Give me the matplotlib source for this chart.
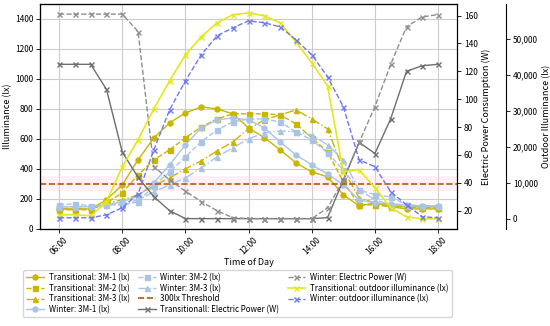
import matplotlib
matplotlib.use('Agg')
import matplotlib.pyplot as plt
from matplotlib.ticker import FuncFormatter

# time of day, half-hour steps
times = ['06:00', '06:30', '07:00', '07:30', '08:00', '08:30', '09:00', '09:30',
         '10:00', '10:30', '11:00', '11:30', '12:00', '12:30', '13:00', '13:30',
         '14:00', '14:30', '15:00', '15:30', '16:00', '16:30', '17:00', '17:30', '18:00']

# indoor illuminance (lx)
trans_3m1 = [133, 133, 133, 193, 293, 460, 607, 707, 773, 813, 800, 767, 673,
             607, 527, 440, 380, 347, 227, 153, 173, 147, 133, 133, 133]
trans_3m2 = [127, 127, 127, 173, 240, 360, 460, 527, 607, 680, 733, 767, 767,
             767, 760, 700, 607, 513, 313, 160, 160, 147, 147, 140, 140]
trans_3m3 = [133, 133, 133, 173, 193, 227, 287, 340, 400, 453, 520, 580, 667,
             727, 760, 793, 733, 667, 393, 207, 173, 153, 147, 147, 147]
winter_3m1 = [147, 147, 147, 160, 180, 220, 307, 427, 560, 673, 727, 740, 727,
              673, 580, 493, 427, 367, 293, 193, 173, 167, 160, 153, 153]
winter_3m2 = [160, 167, 153, 160, 160, 180, 287, 380, 480, 580, 660, 713, 733,
              733, 713, 647, 593, 507, 393, 260, 227, 213, 160, 153, 153]
winter_3m3 = [147, 147, 153, 160, 167, 193, 247, 293, 340, 407, 480, 540, 600,
              640, 653, 647, 627, 560, 460, 260, 193, 160, 153, 153, 153]
threshold = 300

# electric power (W)
trans_power = [125, 125, 125, 107, 62, 44, 30, 20, 14.3, 14.3, 14.3, 14.3, 14.3,
               14.3, 14.3, 14.3, 14.3, 15, 42, 69, 61, 86, 120, 124, 125]
winter_power = [161, 161, 161, 161, 161, 148.5, 51.6, 42, 34, 26.5, 20, 15, 14.3,
                14.3, 14.3, 14.3, 14.3, 22, 42, 69, 94.7, 125, 152, 159, 160.7]

# outdoor illuminance (lx)
trans_outdoor = [1111, 1111, 833, 4722, 14444, 21944, 30556, 38333, 45556, 50556,
                 54444, 56667, 57222, 56389, 54444, 49167, 43333, 36944, 13056,
                 13611, 8611, 3056, 556, 0, 0]
winter_outdoor = [278, 278, 278, 1111, 3056, 6944, 19167, 30278, 38333, 45556,
                  50833, 53056, 55000, 54444, 53333, 49722, 45556, 39444, 31111,
                  16389, 14444, 7500, 3889, 556, 278]

hours = [int(t[:2]) + int(t[3:]) / 60 for t in times]

plt.rcParams['font.family'] = ['Noto Sans CJK KR', 'DejaVu Sans']

c_trans = '#c9b600'
c_winter = '#aac4e6'
c_thr = '#b35a06'
c_tpow = '#6e6e6e'
c_wpow = '#8e8e8e'
c_tout = '#e6e61e'
c_wout = '#6f78f0'

fig = plt.figure(figsize=(5.5, 3.26), dpi=100)
ax = fig.add_axes([0.073, 0.298, 0.758, 0.690])
ax2 = ax.twinx()
ax3 = ax.twinx()
ax3.spines['right'].set_position(('axes', 1.1175))

ms = 3.6
lw = 1.0
l1, = ax.plot(hours, trans_3m1, '-o', color=c_trans, ms=ms, lw=lw, label='Transitional: 3M-1 (lx)')
l2, = ax.plot(hours, trans_3m2, '--s', color=c_trans, ms=ms, lw=lw, label='Transitional: 3M-2 (lx)')
l3, = ax.plot(hours, trans_3m3, '-.^', color=c_trans, ms=ms, lw=lw, label='Transitional: 3M-3 (lx)')
l4, = ax.plot(hours, winter_3m1, '-o', color=c_winter, ms=ms, lw=lw, label='Winter: 3M-1 (lx)')
l5, = ax.plot(hours, winter_3m2, '--s', color=c_winter, ms=ms, lw=lw, label='Winter: 3M-2 (lx)')
l6, = ax.plot(hours, winter_3m3, '-.^', color=c_winter, ms=ms, lw=lw, label='Winter: 3M-3 (lx)')
ax.axhspan(threshold - 50, threshold + 50, color='#ffd6e4', alpha=0.35, lw=0)
l7 = ax.axhline(threshold, color=c_thr, ls='--', lw=1.2, label='300lx Threshold')

p1, = ax2.plot(hours, trans_power, '-x', color=c_tpow, ms=ms, lw=lw, label='Transitionall: Electric Power (W)')
p2, = ax2.plot(hours, winter_power, '--x', color=c_wpow, ms=ms, lw=lw, label='Winter: Electric Power (W)')

o1, = ax3.plot(hours, trans_outdoor, '-x', color=c_tout, ms=ms, lw=1.2, label='Transitional: outdoor illuminance (lx)')
o2, = ax3.plot(hours, winter_outdoor, '--x', color=c_wout, ms=ms, lw=1.0, label='Winter: outdoor illuminance (lx)')

ax.set_ylim(0, 1500)
ax3.set_ylim(-2800, 59700)
ax.set_xticks(range(6, 19, 2))
ax.set_xticklabels(['%02d:00' % h for h in range(6, 19, 2)], rotation=45)
ax.grid(True, color='#cccccc', lw=0.8)
ax.set_axisbelow(True)

ax3.yaxis.set_major_formatter(FuncFormatter(lambda v, p: '{:,.0f}'.format(v)))

fs = 6
for a in (ax, ax2, ax3):
    a.tick_params(labelsize=fs, length=3, width=0.6, pad=2)
ax.set_xlabel('Time of Day', fontsize=6.5, labelpad=1)
ax.set_ylabel('Illuminance (lx)', fontsize=6.5, labelpad=2)
ax2.set_ylabel('Electric Power Consumption (W)', fontsize=6.5, labelpad=3)
ax3.set_ylabel('Outdoor Illuminance (lx)', fontsize=6.5, labelpad=3)

handles = [l1, l2, l3, l4, l5, l6, l7, p1, p2, o1, o2]
fig.legend(handles, [h.get_label() for h in handles], ncol=3, fontsize=5.8,
           loc='upper left', bbox_to_anchor=(0.042, 0.172), frameon=True,
           handlelength=2.2, handletextpad=0.6, columnspacing=1.0,
           labelspacing=0.18, borderpad=0.4, borderaxespad=0)

fig.savefig('out.png', dpi=100)
